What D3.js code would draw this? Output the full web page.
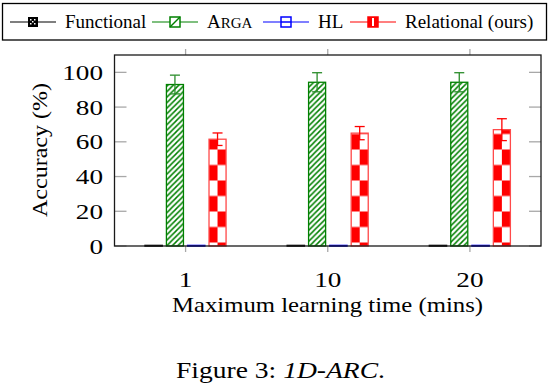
<!DOCTYPE html>
<html><head><meta charset="utf-8">
<script src="https://cdn.jsdelivr.net/npm/d3@7"></script>
<style>html,body{margin:0;padding:0;background:#fff;}svg{display:block;}</style>
</head><body>
<script>
// ---- data ----
const categories = ['1', '10', '20'];
const seriesNames = ['Functional', 'ARGA', 'HL', 'Relational (ours)'];
const functionalVals = [0, 0, 0];
const argaVals = [93, 94.3, 94.3];
const argaErr = [5.4, 5.5, 5.5];
const hlVals = [0, 0, 0];
const relationalVals = [61.5, 65, 67];
const relationalErr = [3.6, 3.8, 6.3];
const yTickValues = [0, 20, 40, 60, 80, 100];
const xAxisTitle = 'Maximum learning time (mins)';
const yAxisTitle = 'Accuracy (%)';

// ---- layout ----
const W = 550, H = 384;
const L = 114.5, R = 541, T = 55, B = 246;
const FONT = '"Liberation Serif","Times New Roman",serif';
const GREEN = '#008000', RED = '#ff0000', BLUE = '#0000ff';

const svg = d3.select('body').append('svg').attr('width', W).attr('height', H);
svg.append('rect').attr('width', W).attr('height', H).attr('fill', '#fff');
const defs = svg.append('defs');

const x0 = d3.scaleBand().domain(categories).range([L, R]).padding(0);
const x1 = d3.scaleBand().domain(seriesNames)
  .range([x0.bandwidth() / 2 - 42.6, x0.bandwidth() / 2 + 42.6])
  .paddingInner(0.2).paddingOuter(0.1);
const y = d3.scaleLinear().domain([0, 110]).range([B, T]);

// hatch pattern
const hatch = defs.append('pattern').attr('id', 'hatch').attr('patternUnits', 'userSpaceOnUse')
  .attr('width', 5.5).attr('height', 5.5);
hatch.append('rect').attr('width', 5.5).attr('height', 5.5).attr('fill', '#fff');
hatch.append('path').attr('d', 'M0,5.5 L5.5,0 M-1.5,1.5 L1.5,-1.5 M4,7 L7,4')
  .attr('stroke', GREEN).attr('stroke-width', 1.5);

// ---- ticks ----
const tickCol = '#a8a8a8';
const grid = svg.append('g');
yTickValues.forEach(v => {
  grid.append('line').attr('x1', L).attr('x2', L + 12).attr('y1', y(v)).attr('y2', y(v))
    .attr('stroke', tickCol).attr('stroke-width', 1.3);
  grid.append('line').attr('x1', R - 12).attr('x2', R).attr('y1', y(v)).attr('y2', y(v))
    .attr('stroke', tickCol).attr('stroke-width', 1.3);
});
categories.forEach(c => {
  const cx = x0(c) + x0.bandwidth() / 2;
  grid.append('line').attr('x1', cx).attr('x2', cx).attr('y1', B).attr('y2', B + 6)
    .attr('stroke', tickCol).attr('stroke-width', 1.3);
  grid.append('line').attr('x1', cx).attr('x2', cx).attr('y1', T - 6).attr('y2', T)
    .attr('stroke', tickCol).attr('stroke-width', 1.3);
});

// ---- bars ----
const bars = svg.append('g');
const bw = x1.bandwidth();
categories.forEach((c, i) => {
  const gx = x0(c);
  // Functional (zero)
  const fx = gx + x1('Functional');
  bars.append('rect').attr('x', fx).attr('y', y(functionalVals[i]) - 0.5).attr('width', bw)
    .attr('height', y(0) - y(functionalVals[i]) + 0.5).attr('fill', '#000')
    .attr('stroke', '#000').attr('stroke-width', 1.6);
  // ARGA
  const ax = gx + x1('ARGA');
  bars.append('rect').attr('x', ax).attr('y', y(argaVals[i])).attr('width', bw)
    .attr('height', y(0) - y(argaVals[i])).attr('fill', 'url(#hatch)')
    .attr('stroke', GREEN).attr('stroke-width', 1.3);
  // HL
  const hx = gx + x1('HL');
  bars.append('rect').attr('x', hx).attr('y', y(hlVals[i]) - 0.5).attr('width', bw)
    .attr('height', y(0) - y(hlVals[i]) + 0.5).attr('fill', BLUE)
    .attr('stroke', BLUE).attr('stroke-width', 1.6);
  // Relational with checker pattern
  const rx = gx + x1('Relational (ours)');
  const pid = 'checker' + i;
  const p = defs.append('pattern').attr('id', pid).attr('patternUnits', 'userSpaceOnUse')
    .attr('x', rx).attr('y', B - 3.5).attr('width', bw).attr('height', 31);
  p.append('rect').attr('width', bw).attr('height', 31).attr('fill', '#fff');
  p.append('rect').attr('x', 0).attr('y', 15.5).attr('width', bw / 2).attr('height', 15.5).attr('fill', RED);
  p.append('rect').attr('x', bw / 2).attr('y', 0).attr('width', bw / 2).attr('height', 15.5).attr('fill', RED);
  bars.append('rect').attr('x', rx).attr('y', y(relationalVals[i])).attr('width', bw)
    .attr('height', y(0) - y(relationalVals[i])).attr('fill', 'url(#' + pid + ')')
    .attr('stroke', '#ff4a4a').attr('stroke-width', 1.3);
});

// ---- error bars ----
function errBar(cx, v, e, col) {
  const g = svg.append('g').attr('stroke', col).attr('stroke-width', 1.3);
  g.append('line').attr('x1', cx).attr('x2', cx).attr('y1', y(v - e)).attr('y2', y(v + e));
  g.append('line').attr('x1', cx - 5).attr('x2', cx + 5).attr('y1', y(v + e)).attr('y2', y(v + e));
  g.append('line').attr('x1', cx - 5).attr('x2', cx + 5).attr('y1', y(v - e)).attr('y2', y(v - e));
}
categories.forEach((c, i) => {
  errBar(x0(c) + x1('ARGA') + bw / 2, argaVals[i], argaErr[i], '#2a8c2a');
  errBar(x0(c) + x1('Relational (ours)') + bw / 2, relationalVals[i], relationalErr[i], RED);
});

// ---- frame ----
svg.append('rect').attr('x', L).attr('y', T).attr('width', R - L).attr('height', B - T)
  .attr('fill', 'none').attr('stroke', '#1a1a1a').attr('stroke-width', 1.3);

// ---- tick labels ----
const yl = svg.append('g').attr('font-family', FONT).attr('font-size', 21).attr('fill', '#000');
yTickValues.forEach(v => {
  const s = String(v);
  yl.append('text').attr('x', 103).attr('y', y(v) + 7.5).attr('text-anchor', 'end')
    .attr('textLength', s.length * 13.6).attr('lengthAdjust', 'spacingAndGlyphs').text(s);
});
categories.forEach(c => {
  const cx = x0(c) + x0.bandwidth() / 2;
  yl.append('text').attr('x', cx - c.length * 13.6 / 2).attr('y', 287)
    .attr('textLength', c.length * 13.6).attr('lengthAdjust', 'spacingAndGlyphs').text(c);
});

// axis titles
svg.append('text').attr('font-family', FONT).attr('font-size', 21)
  .attr('x', 172).attr('y', 312).attr('textLength', 311).attr('lengthAdjust', 'spacingAndGlyphs')
  .text(xAxisTitle);
svg.append('text').attr('font-family', FONT).attr('font-size', 22)
  .attr('transform', 'translate(47,217) rotate(-90)')
  .attr('textLength', 134).attr('lengthAdjust', 'spacingAndGlyphs').text(yAxisTitle);

// ---- legend ----
svg.append('rect').attr('x', 2.5).attr('y', 3.5).attr('width', 544).attr('height', 36.5)
  .attr('fill', '#fff').attr('stroke', '#000').attr('stroke-width', 1.3);
const legendStarts = [10, 152, 263, 350];
const legendCols = ['#000', GREEN, BLUE, RED];
const ly = 22;
seriesNames.forEach((name, i) => {
  const lx = legendStarts[i];
  const g = svg.append('g');
  g.append('line').attr('x1', lx).attr('x2', lx + 46).attr('y1', ly).attr('y2', ly)
    .attr('stroke', legendCols[i]).attr('stroke-width', 1.2);
  const mx = lx + 18, my = ly - 5;
  if (i === 0) {
    g.append('rect').attr('x', mx).attr('y', my).attr('width', 10).attr('height', 10).attr('fill', '#000');
    [[2, 2], [6, 2], [4, 4], [2, 6], [6, 6]].forEach(d => g.append('rect').attr('x', mx + d[0]).attr('y', my + d[1])
      .attr('width', 1.5).attr('height', 1.5).attr('fill', '#fff'));
  } else if (i === 1) {
    g.append('rect').attr('x', mx).attr('y', my).attr('width', 10).attr('height', 10)
      .attr('fill', '#fff').attr('stroke', GREEN).attr('stroke-width', 1.5);
    g.append('line').attr('x1', mx).attr('y1', my + 10).attr('x2', mx + 10).attr('y2', my)
      .attr('stroke', GREEN).attr('stroke-width', 1.5);
  } else if (i === 2) {
    g.append('rect').attr('x', mx).attr('y', my).attr('width', 10).attr('height', 10)
      .attr('fill', '#fff').attr('stroke', BLUE).attr('stroke-width', 1.5);
    g.append('line').attr('x1', mx).attr('y1', my + 5).attr('x2', mx + 10).attr('y2', my + 5)
      .attr('stroke', BLUE).attr('stroke-width', 1.5);
  } else {
    g.append('rect').attr('x', mx).attr('y', my).attr('width', 10).attr('height', 10)
      .attr('fill', RED).attr('stroke', RED).attr('stroke-width', 1.5);
    g.append('rect').attr('x', mx + 4).attr('y', my + 1).attr('width', 2).attr('height', 8).attr('fill', '#fff');
  }
  const t = g.append('text').attr('font-family', FONT).attr('font-size', 19)
    .attr('x', lx + 55).attr('y', 28);
  if (name === 'ARGA') {
    t.append('tspan').text('A');
    t.append('tspan').attr('font-size', 15).text('RGA');
  } else {
    t.text(name);
  }
});

// ---- caption ----
const cap = svg.append('text').attr('font-family', FONT).attr('font-size', 23)
  .attr('x', 176).attr('y', 378).attr('textLength', 209).attr('lengthAdjust', 'spacingAndGlyphs');
cap.append('tspan').text('Figure 3: ');
cap.append('tspan').attr('font-style', 'italic').text('1D-ARC');
cap.append('tspan').text('.');
</script>
</body></html>
